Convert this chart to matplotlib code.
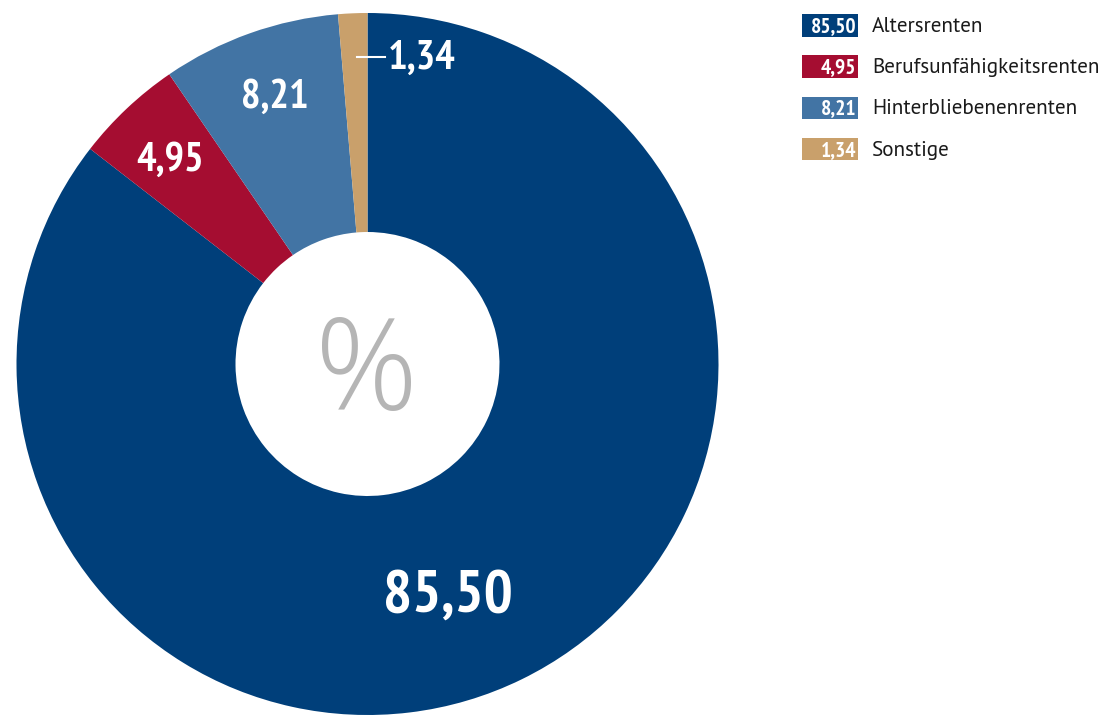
import matplotlib.pyplot as plt
from matplotlib.patches import Rectangle

# Daten
categories = ["Altersrenten", "Berufsunfähigkeitsrenten", "Hinterbliebenenrenten", "Sonstige"]
values = [85.50, 4.95, 8.21, 1.34]
value_labels = ["85,50", "4,95", "8,21", "1,34"]
colors = ["#003f7a", "#a50d31", "#4274a4", "#c9a06b"]

cond = ["PT Sans Narrow", "DejaVu Sans"]
plt.rcParams['font.family'] = ["PT Sans", "DejaVu Sans"]

W, H = 1109, 715
fig = plt.figure(figsize=(W / 100, H / 100), dpi=100)
ax = fig.add_axes([0, 0, 1, 1])

# Ring (Pixelkoordinaten, y von unten)
cx, cy = 367.5, H - 364
r_out, r_in = 351, 132
ax.pie(values, colors=colors, startangle=90, counterclock=False,
       center=(cx, cy), radius=r_out, frame=True,
       wedgeprops=dict(width=r_out - r_in, linewidth=0))
ax.set_xlim(0, W)
ax.set_ylim(0, H)
ax.set_aspect('equal')
ax.axis('off')

ax.text(cx - 1, cy - 13, "%", ha='center', va='center', fontsize=92,
        color="#b5b5b5", fontweight='light', family=["Open Sans", "DejaVu Sans"])

# Beschriftungen im Ring
label_pos = [(448, 597, 44), (170, 160, 29.5), (275, 97, 29.5)]
for (px, py, fs), txt in zip(label_pos, value_labels[:3]):
    ax.text(px, H - py, txt, ha='center', va='center', fontsize=fs,
            color='white', fontweight='bold', family=cond)
ax.plot([357, 385], [H - 57, H - 57], color='white', lw=1.5)
ax.text(388, H - 58, value_labels[3], ha='left', va='center', fontsize=29.5,
        color='white', fontweight='bold', family=cond)

# Legende
for i, (cat, lab, col) in enumerate(zip(categories, value_labels, colors)):
    yc = H - (25.5 + i * 41.2)
    ax.add_patch(Rectangle((802, yc - 11.25), 56, 22.5, color=col, lw=0))
    ax.text(856, yc - 1, lab, ha='right', va='center', fontsize=15.5,
            color='white', fontweight='bold', family=cond)
    ax.text(872, yc - 1, cat, ha='left', va='center', fontsize=15.2, color='#1a1a1a')

fig.savefig("out.png", dpi=100)
